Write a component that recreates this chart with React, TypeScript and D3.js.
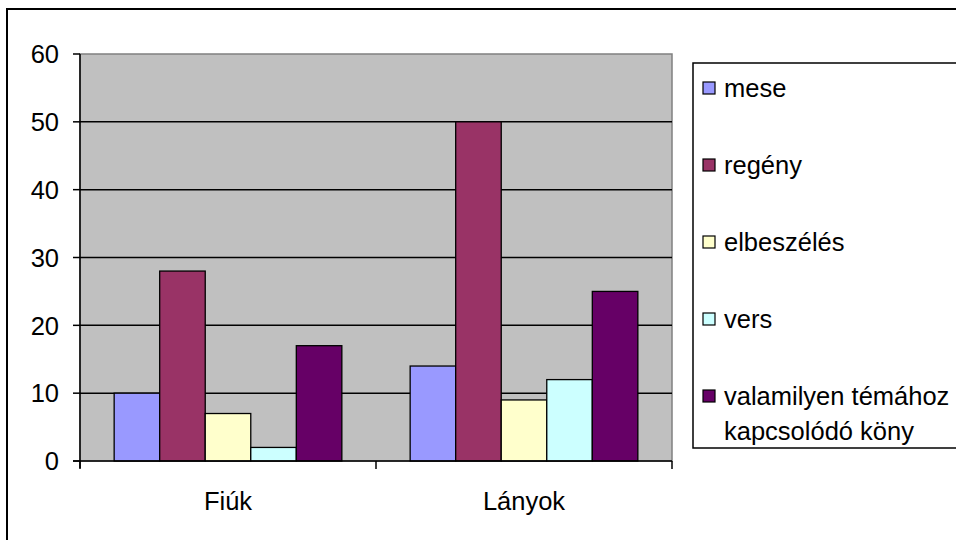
import React from "react";
import * as d3 from "d3";

const categories = ["Fiúk", "Lányok"];
const seriesNames = ["mese", "regény", "elbeszélés", "vers", "valamilyen témához kapcsolódó köny"];
const legendLines = [["mese"], ["regény"], ["elbeszélés"], ["vers"], ["valamilyen témához", "kapcsolódó köny"]];
const seriesColors = ["#9999FF", "#993366", "#FFFFCC", "#CCFFFF", "#660066"];
const fiukValues = [10, 28, 7, 2, 17];
const lanyokValues = [14, 50, 9, 12, 25];
const yTicks = [0, 10, 20, 30, 40, 50, 60];

const values = [fiukValues, lanyokValues];

export default function App() {
  const W = 956, H = 540;
  const plotL = 80, plotR = 672, plotT = 54, plotB = 461;
  const x0 = d3.scaleBand<string>().domain(categories).range([plotL, plotR]).paddingInner(0).paddingOuter(0);
  const x1 = d3.scaleBand<string>().domain(seriesNames).range([0, x0.bandwidth()]).paddingInner(0).paddingOuter(0.75);
  const y = d3.scaleLinear().domain([0, 60]).range([plotB, plotT]);
  const font = "'Liberation Sans', Arial, sans-serif";
  const fs = 25.5;
  const legendX = 693, legendY = 63, legendH = 385;
  const entryCenters = [88, 165, 242, 319, 396];
  const boundaries = [plotL, ...categories.map((c) => (x0(c) as number) + x0.bandwidth())];

  return (
    <svg width={W} height={H} style={{ position: "absolute", left: 0, top: 0 }} fontFamily={font}>
      <rect x={0} y={0} width={W} height={H} fill="#fff" />
      <rect x={7} y={9} width={W + 20} height={H + 20} fill="none" stroke="#000" strokeWidth={2} />
      <rect x={plotL} y={plotT} width={plotR - plotL} height={plotB - plotT} fill="#C0C0C0" stroke="#808080" strokeWidth={1.5} />
      {yTicks.filter((t) => t > 0 && t < 60).map((t) => (
        <line key={"g" + t} x1={plotL} x2={plotR} y1={y(t)} y2={y(t)} stroke="#000" strokeWidth={1.5} />
      ))}
      {categories.map((c, ci) =>
        seriesNames.map((s, si) => {
          const v = values[ci][si];
          const bx = (x0(c) as number) + (x1(s) as number);
          return (
            <rect key={c + s} x={bx} y={y(v)} width={x1.bandwidth()} height={y(0) - y(v)}
              fill={seriesColors[si]} stroke="#000" strokeWidth={1.3} />
          );
        })
      )}
      <line x1={plotL} x2={plotL} y1={plotT} y2={plotB + 7} stroke="#000" strokeWidth={1.5} />
      <line x1={plotL - 7} x2={plotR} y1={plotB} y2={plotB} stroke="#000" strokeWidth={1.5} />
      {yTicks.map((t) => (
        <g key={"t" + t}>
          <line x1={plotL - 7} x2={plotL} y1={y(t)} y2={y(t)} stroke="#000" strokeWidth={1.5} />
          <text x={59} y={y(t)} dy="0.36em" textAnchor="end" fontSize={fs} fill="#000">{t}</text>
        </g>
      ))}
      {boundaries.map((b, i) => (
        <line key={"b" + i} x1={b} x2={b} y1={plotB} y2={plotB + 8} stroke="#000" strokeWidth={1.5} />
      ))}
      {categories.map((c) => (
        <text key={"c" + c} x={(x0(c) as number) + x0.bandwidth() / 2} y={510} textAnchor="middle" fontSize={fs} fill="#000">{c}</text>
      ))}
      <rect x={legendX} y={legendY} width={300} height={legendH} fill="#fff" stroke="#000" strokeWidth={1.5} />
      {seriesNames.map((s, i) => (
        <g key={"l" + s}>
          <rect x={703} y={entryCenters[i] - 6} width={12} height={12} fill={seriesColors[i]} stroke="#000" strokeWidth={1.2} />
          {legendLines[i].map((ln, j) => (
            <text key={j} x={724} y={entryCenters[i] + j * 35} dy="0.36em" fontSize={fs} fill="#000">{ln}</text>
          ))}
        </g>
      ))}
    </svg>
  );
}
